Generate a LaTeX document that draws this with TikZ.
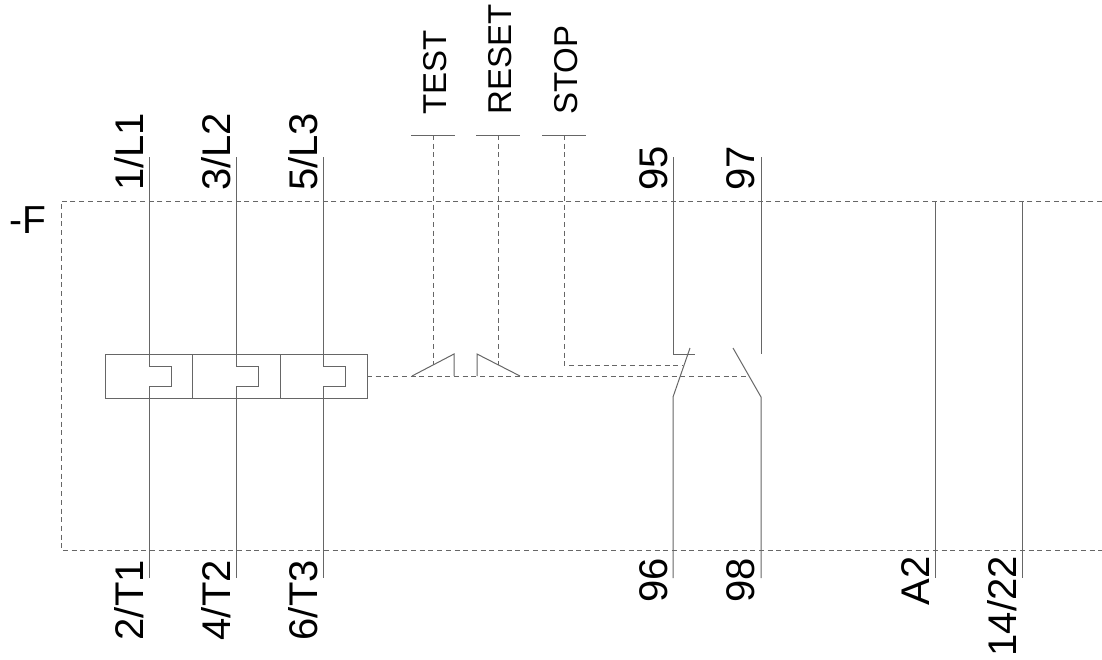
\documentclass[tikz,border=0pt]{standalone}
\usepackage{fontspec}
\setmainfont{Liberation Sans}
\tikzset{
  wire/.style={black!60, line width=1pt},
  mech/.style={black!60, line width=1pt, dash pattern=on 5pt off 3.7pt},
  upper/.style={rotate=90, anchor=base west, inner sep=0pt, font=\fontsize{40}{40}\selectfont},
  lower/.style={rotate=90, anchor=base east, inner sep=0pt, font=\fontsize{40}{40}\selectfont},
  button/.style={rotate=90, anchor=base west, inner sep=0pt, font=\fontsize{33}{33}\selectfont},
}
\begin{document}
\begin{tikzpicture}[x=1pt, y=-1pt]
  \useasboundingbox (0,0) rectangle (1102,659);

  % housing
  \draw[mech] (1102,201) -- (61,201) -- (61,550) -- (1102,550);
  \node[anchor=base west, inner sep=0pt, font=\fontsize{39}{39}\selectfont] (tag) at (9,233) {-F};

  % overload elements
  \draw[wire] (105,354) rectangle (367,398);
  \draw[wire] (192,354) -- (192,398);
  \draw[wire] (280,354) -- (280,398);
  \foreach \x/\top/\bot [count=\i] in {149/1\slash L1/2\slash T1, 236/3\slash L2/4\slash T2, 323/5\slash L3/6\slash T3} {
    \coordinate (p\i) at (\x,157);
    \coordinate (q\i) at (\x,578);
    \draw[wire] (p\i) -- (\x,366) -- (\x+22,366) -- (\x+22,386) -- (\x,386) -- (q\i);
    \node[upper] (ptop\i) at (\x-6,191) {\top};
    \node[lower] (pbot\i) at (\x-6,560) {\bot};
  }

  % buttons
  \foreach \x/\name [count=\i] in {433/TEST, 498/RESET, 564/STOP} {
    \coordinate (b\i) at (\x,135);
    \draw[wire] (\x-22,135) -- (\x+22,135);
    \node[button] (btn\i) at (\x+13,115) {\name};
  }
  \coordinate (t1) at (433,364.5);
  \coordinate (t2) at (498,365);
  \coordinate (t3) at (683,365);
  \draw[mech] (b1) -- (t1);
  \draw[mech] (b2) -- (t2);
  \draw[mech] (b3) -- (564,365) -- (t3);
  \draw[wire] (412,376) -- (454,354) -- (454,376);
  \draw[wire] (477,376) -- (477,354) -- (520,376);
  \draw[mech] (367,376) -- (748,376);

  % auxiliary contacts
  \draw[wire] (673,157) -- (673,354) -- (695,354);
  \draw[wire] (690,348) -- (673,397) -- (673,578);
  \draw[wire] (761,157) -- (761,354);
  \draw[wire] (733,348) -- (761,397) -- (761,578);
  \node[upper] (c95) at (667,191) {95};
  \node[upper] (c97) at (754,191) {97};
  \node[lower] (c96) at (667,558) {96};
  \node[lower] (c98) at (754,558) {98};

  % coil side
  \draw[wire] (935,201) -- (935,578);
  \draw[wire] (1022,201) -- (1022,578);
  \node[lower] (a2) at (929,556) {A2};
  \node[lower] (c14) at (1016,556) {14\slash 22};
\end{tikzpicture}
\end{document}
